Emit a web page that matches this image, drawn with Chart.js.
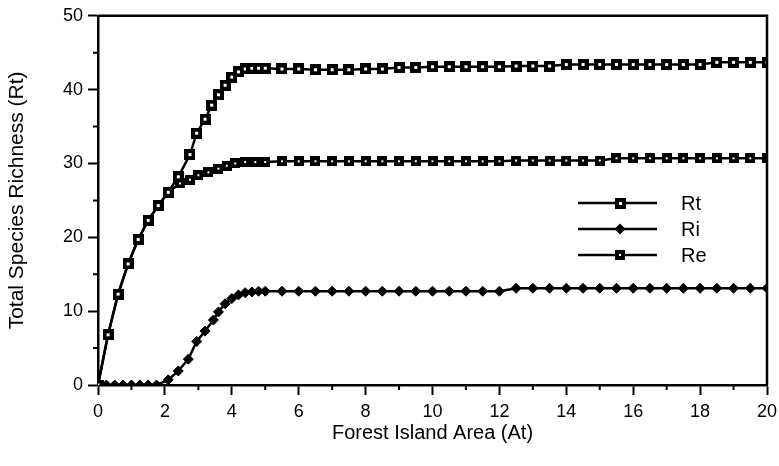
<!DOCTYPE html>
<html>
<head>
<meta charset="utf-8">
<title>Total Species Richness vs Forest Island Area</title>
<script src="https://cdn.jsdelivr.net/npm/chart.js"></script>
<style>
  html, body { margin: 0; padding: 0; background: #fff; }
  #wrap { width: 779px; height: 466px; }
</style>
</head>
<body>
<div id="wrap"><canvas id="c" width="779" height="466"></canvas></div>
<script>
// plateau part of every curve is sampled every 0.5 from 5.5 to 20
const tailX = [5.5, 6, 6.5, 7, 7.5, 8, 8.5, 9, 9.5, 10, 10.5, 11, 11.5, 12, 12.5,
  13, 13.5, 14, 14.5, 15, 15.5, 16, 16.5, 17, 17.5, 18, 18.5, 19, 19.5, 20];

const rtX = [0, 0.3, 0.6, 0.9, 1.2, 1.5, 1.8, 2.1, 2.4, 2.75, 2.95, 3.2, 3.4, 3.6, 3.8,
  4.0, 4.2, 4.4, 4.6, 4.8, 5.0, ...tailX];
const rtY = [0, 6.8, 12.3, 16.4, 19.7, 22.3, 24.3, 26.1, 28.2, 31.2, 34.1, 36.0, 37.9, 39.3, 40.6,
  41.7, 42.4, 42.8, 42.9, 42.9, 42.9,
  42.8, 42.8, 42.7, 42.7, 42.7, 42.8, 42.8, 43.0, 43.0, 43.1,
  43.1, 43.1, 43.1, 43.1, 43.2, 43.2, 43.2, 43.4, 43.4, 43.4,
  43.4, 43.4, 43.4, 43.4, 43.4, 43.4, 43.7, 43.7, 43.7, 43.7];

const riX = [0, 0.25, 0.5, 0.75, 1.0, 1.25, 1.5, 1.75, 2.1, 2.4, 2.7, 2.95, 3.2, 3.45, 3.6,
  3.8, 4.0, 4.2, 4.4, 4.6, 4.8, 5.0, ...tailX];
const riY = [0, 0, 0, 0, 0, 0, 0, 0, 0.7, 1.9, 3.5, 5.9, 7.3, 8.8, 9.9,
  11.0, 11.7, 12.2, 12.5, 12.6, 12.7, 12.7,
  12.7, 12.7, 12.7, 12.7, 12.7, 12.7, 12.7, 12.7, 12.7, 12.7,
  12.7, 12.7, 12.7, 12.7, 13.1, 13.1, 13.1, 13.1, 13.1, 13.1,
  13.1, 13.1, 13.1, 13.1, 13.1, 13.1, 13.1, 13.1, 13.1, 13.1];

const reX = [0, 0.3, 0.6, 0.9, 1.2, 1.5, 1.8, 2.1, 2.45, 2.75, 3.0, 3.3, 3.6, 3.85, 4.1,
  4.4, 4.7, 5.0, ...tailX];
const reY = [0, 6.8, 12.3, 16.4, 19.7, 22.3, 24.3, 26.1, 27.3, 27.8, 28.4, 28.8, 29.3, 29.7, 30.0,
  30.2, 30.2, 30.2,
  30.3, 30.3, 30.3, 30.3, 30.3, 30.3, 30.3, 30.3, 30.3, 30.3,
  30.3, 30.3, 30.3, 30.3, 30.4, 30.4, 30.4, 30.4, 30.4, 30.4,
  30.7, 30.7, 30.7, 30.7, 30.7, 30.7, 30.7, 30.7, 30.7, 30.7];

const seriesNames = ['Rt', 'Ri', 'Re'];
const xTicks = [0, 2, 4, 6, 8, 10, 12, 14, 16, 18, 20];
const yTicks = [0, 10, 20, 30, 40, 50];

const FONT = "'Liberation Sans', Arial, Helvetica, sans-serif";

// square markers: black block with a white hole (open) or a white dot (filled)
function squareMarker(size, hole) {
  const cv = document.createElement('canvas');
  cv.width = size; cv.height = size;
  const g = cv.getContext('2d');
  g.fillStyle = '#000';
  g.fillRect(0, 0, size, size);
  g.fillStyle = '#fff';
  const o = (size - hole) / 2;
  g.fillRect(o, o, hole, hole);
  return cv;
}
const openSquare = squareMarker(11, 3);
const dotSquare = squareMarker(10, 2);

const pts = (xs, ys) => xs.map((x, i) => ({ x, y: ys[i] }));

const lineStyle = { showLine: true, borderColor: '#000', borderWidth: 2.5, tension: 0,
  pointBackgroundColor: '#000', pointBorderColor: '#000' };

const datasets = [
  { label: seriesNames[0], data: pts(rtX, rtY), ...lineStyle, pointStyle: openSquare },
  { label: seriesNames[1], data: pts(riX, riY), ...lineStyle, pointStyle: 'rectRot', pointRadius: 5, pointBorderWidth: 1 },
  { label: seriesNames[2], data: pts(reX, reY), ...lineStyle, pointStyle: dotSquare }
];

// box frame, minor ticks and the in-plot key
const extras = {
  id: 'extras',
  afterDraw(chart) {
    const { ctx, chartArea: a, scales: { x, y } } = chart;
    ctx.save();
    ctx.strokeStyle = '#000';
    ctx.lineWidth = 2.5;
    ctx.beginPath();
    ctx.moveTo(a.left, a.top);
    ctx.lineTo(a.right, a.top);
    ctx.lineTo(a.right, a.bottom);
    ctx.stroke();

    ctx.lineWidth = 2;
    ctx.beginPath();
    for (let v = 1; v < 20; v += 2) {
      const px = x.getPixelForValue(v);
      ctx.moveTo(px, a.bottom); ctx.lineTo(px, a.bottom + 5);
    }
    for (let v = 5; v < 50; v += 10) {
      const py = y.getPixelForValue(v);
      ctx.moveTo(a.left, py); ctx.lineTo(a.left - 5, py);
    }
    ctx.stroke();

    const keyY = [203, 229, 255];
    const x1 = 578, x2 = 657, mx = 620, tx = 681;
    ctx.font = '20px ' + FONT;
    ctx.textBaseline = 'middle';
    ctx.fillStyle = '#000';
    chart.data.datasets.forEach((ds, i) => {
      const ly = keyY[i];
      ctx.lineWidth = 2.5;
      ctx.beginPath();
      ctx.moveTo(x1, ly); ctx.lineTo(x2, ly);
      ctx.stroke();
      if (ds.pointStyle instanceof HTMLCanvasElement) {
        const s = ds.pointStyle;
        ctx.drawImage(s, Math.round(mx - s.width / 2), Math.round(ly - s.height / 2));
      } else {
        const r = ds.pointRadius + 0.5;
        ctx.beginPath();
        ctx.moveTo(mx - r, ly); ctx.lineTo(mx, ly - r);
        ctx.lineTo(mx + r, ly); ctx.lineTo(mx, ly + r);
        ctx.closePath();
        ctx.fill();
      }
      ctx.fillText(ds.label, tx, ly + 1);
    });
    ctx.restore();
  }
};

new Chart(document.getElementById('c'), {
  type: 'scatter',
  data: { datasets },
  plugins: [extras],
  options: {
    responsive: false,
    animation: false,
    layout: { padding: { top: 15, right: 0, left: 0, bottom: 0 } },
    plugins: { legend: { display: false }, tooltip: { enabled: false } },
    scales: {
      x: {
        type: 'linear', min: 0, max: 20,
        afterFit: s => { s.height = 81; s.paddingRight = 12; s.paddingLeft = 0; },
        afterBuildTicks: s => { s.ticks = xTicks.map(v => ({ value: v })); },
        border: { color: '#000', width: 2.5 },
        grid: { drawOnChartArea: false, tickLength: 10, tickWidth: 2, tickColor: '#000' },
        ticks: { color: '#000', padding: 6, font: { family: FONT, size: 18 } },
        title: { display: true, text: 'Forest Island Area (At)', color: '#000',
          font: { family: FONT, size: 20 }, padding: { top: 0, bottom: 21 } }
      },
      y: {
        type: 'linear', min: 0, max: 50,
        afterFit: s => { s.width = 98; },
        afterBuildTicks: s => { s.ticks = yTicks.map(v => ({ value: v })); },
        border: { color: '#000', width: 2.5 },
        grid: { drawOnChartArea: false, tickLength: 10, tickWidth: 2, tickColor: '#000' },
        ticks: { color: '#000', padding: 5, font: { family: FONT, size: 18 } },
        title: { display: true, text: 'Total Species Richness (Rt)', color: '#000',
          font: { family: FONT, size: 21 }, padding: { top: 5, bottom: 0 } }
      }
    }
  }
});
</script>
</body>
</html>
